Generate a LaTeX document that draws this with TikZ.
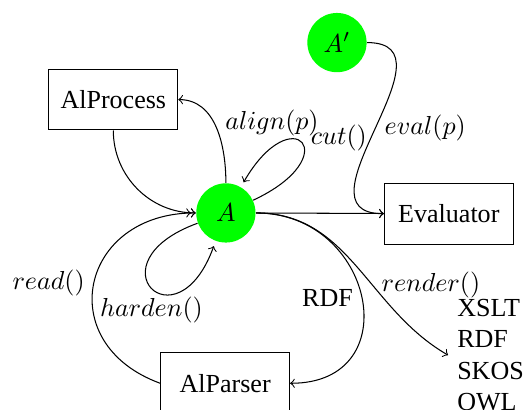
\documentclass[tikz,border=0pt]{standalone}
\usepackage{fontspec}
\setmainfont{Liberation Serif}
\begin{document}
\begin{tikzpicture}[
    agent/.style={circle, fill=green, minimum size=0.8cm, inner sep=0pt},
    tool/.style={draw, minimum width=1.74cm, minimum height=0.82cm}]
        \useasboundingbox (0,0) rectangle (7.17,5.535);
        \node[agent] (A) at (3.05,2.66) {$A$};
        \node[agent] (Ap) at (4.55,4.96) {$A'$};
        \node[tool] (process) at (1.53,4.19) {AlProcess};
        \node[tool] (evaluator) at (6.06,2.65) {Evaluator};
        \node[tool] (parser) at (3.04,0.36) {AlParser};
        \node[right, align=left] (formats) at (6.05,0.74) {XSLT\\RDF\\SKOS\\OWL};
        \draw[->>] (process) to[out=-90,in=180] (A);
        \draw[->] (parser.west) to[out=160,in=180,looseness=1.7] node[left] {$read()$} (A);
        \draw[->] (A) to[out=90,in=0] node[right,yshift=1.5pt] {$align(p)$} (process);
        \draw[->,shorten >=2pt] (A) to[out=25,in=60,distance=1.4cm] node[right,yshift=2pt] {$cut()$} (A);
        \draw[->,shorten >=2pt] (A) to[out=200,in=250,distance=1.55cm] node[below] {$harden()$} (A);
        \draw[->] (A) -- (evaluator);
        \draw[->] (Ap) to[out=0,in=180,looseness=1.4] node[right] {$eval(p)$} (evaluator);
        \draw[->] (A) to[out=0,in=0,looseness=1.75] node[left] {RDF} (parser);
        \draw[->] (A) to[out=0,in=150] node[pos=0.6,right] {$render()$} (formats.west);
\end{tikzpicture}
\end{document}
